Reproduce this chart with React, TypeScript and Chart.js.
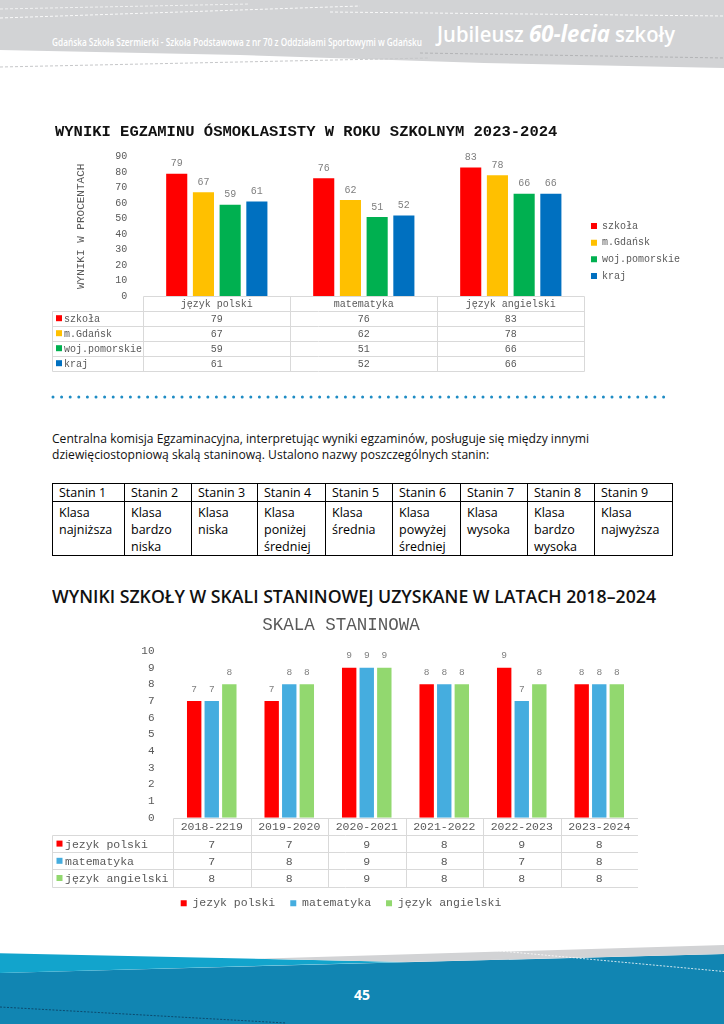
import React, { useEffect, useLayoutEffect, useRef } from 'react';
import { Chart, registerables } from 'chart.js';

Chart.register(...registerables);

const MONO = '"Liberation Mono", "DejaVu Sans Mono", monospace';
const SANS = '"Open Sans", "Noto Sans", sans-serif';

// ---- Chart 1: exam results (percent) ----
const examSubjects = ['język polski', 'matematyka', 'język angielski'];
const examSeriesNames = ['szkoła', 'm.Gdańsk', 'woj.pomorskie', 'kraj'];
const szkolaValues = [79, 76, 83];
const gdanskValues = [67, 62, 78];
const pomorskieValues = [59, 51, 66];
const krajValues = [61, 52, 66];
const examColors = ['#ff0000', '#ffc000', '#00b050', '#0070c0'];
const examAxisMin = 0;
const examAxisMax = 90;
const examAxisStep = 10;

// ---- Chart 2: stanine scale ----
const staninYears = ['2018-2219', '2019-2020', '2020-2021', '2021-2022', '2022-2023', '2023-2024'];
const staninSeriesNames = ['jezyk polski', 'matematyka', 'język angielski'];
const polskiStanin = [7, 7, 9, 8, 9, 8];
const matematykaStanin = [7, 8, 9, 8, 7, 8];
const angielskiStanin = [8, 8, 9, 8, 8, 8];
const staninColors = ['#ff0000', '#45addf', '#92d86f'];
const staninAxisMin = 0;
const staninAxisMax = 10;
const staninAxisStep = 1;

// ---- Stanine names table ----
const staninHeaders = ['Stanin 1', 'Stanin 2', 'Stanin 3', 'Stanin 4', 'Stanin 5', 'Stanin 6', 'Stanin 7', 'Stanin 8', 'Stanin 9'];
const staninNames = [
  'Klasa\nnajniższa',
  'Klasa\nbardzo\nniska',
  'Klasa\nniska',
  'Klasa\nponiżej\nśredniej',
  'Klasa\nśrednia',
  'Klasa\npowyżej\nśredniej',
  'Klasa\nwysoka',
  'Klasa\nbardzo\nwysoka',
  'Klasa\nnajwyższa',
];
const staninColWidths = [72, 67, 66, 68, 67, 68, 67, 67, 78];

type TableCfg = {
  labelLeft: number;
  headerH: number;
  rowH: number;
  font: string;
  color: string;
  line: string;
  box: number;
  boxGap: number;
  textGap: number;
};

function makeTablePlugin(cfg: TableCfg) {
  return {
    id: 'dataTable',
    afterDraw(chart: any) {
      const ctx = chart.ctx as CanvasRenderingContext2D;
      const a = chart.chartArea;
      const xs = chart.scales.x;
      const labels = chart.data.labels as string[];
      const n = labels.length;
      const step = xs.getPixelForValue(1) - xs.getPixelForValue(0);
      const first = xs.getPixelForValue(0) - step / 2;
      const edges: number[] = [];
      for (let i = 0; i <= n; i++) edges.push(first + i * step);
      const ds = chart.data.datasets;
      const top = a.bottom;
      const rowsTop = top + cfg.headerH;
      const bottom = rowsTop + ds.length * cfg.rowH;
      const L = cfg.labelLeft;
      const p = (v: number) => Math.round(v) + 0.5;
      ctx.save();
      ctx.strokeStyle = cfg.line;
      ctx.lineWidth = 1;
      ctx.beginPath();
      ctx.moveTo(p(edges[0]), p(top));
      ctx.lineTo(p(edges[n]), p(top));
      for (let k = 0; k <= ds.length; k++) {
        const y = rowsTop + k * cfg.rowH;
        ctx.moveTo(p(L), p(y));
        ctx.lineTo(p(edges[n]), p(y));
      }
      edges.forEach((e) => {
        ctx.moveTo(p(e), p(top));
        ctx.lineTo(p(e), p(bottom));
      });
      ctx.moveTo(p(L), p(rowsTop));
      ctx.lineTo(p(L), p(bottom));
      ctx.stroke();
      ctx.font = cfg.font;
      ctx.textBaseline = 'middle';
      ctx.textAlign = 'center';
      ctx.fillStyle = cfg.color;
      labels.forEach((lab, i) => {
        ctx.fillText(lab, (edges[i] + edges[i + 1]) / 2, top + cfg.headerH / 2 + 1);
      });
      ds.forEach((d: any, r: number) => {
        const cy = rowsTop + r * cfg.rowH + cfg.rowH / 2 + 1;
        ctx.fillStyle = d.backgroundColor;
        ctx.fillRect(L + cfg.boxGap, cy - cfg.box / 2 - 1, cfg.box, cfg.box);
        ctx.fillStyle = cfg.color;
        ctx.textAlign = 'left';
        ctx.fillText(d.label, L + cfg.boxGap + cfg.box + cfg.textGap, cy);
        ctx.textAlign = 'center';
        (d.data as number[]).forEach((v, i) => {
          ctx.fillText(String(v), (edges[i] + edges[i + 1]) / 2, cy);
        });
      });
      ctx.restore();
    },
  };
}

function makeValueLabels(font: string, color: string, offset: number) {
  return {
    id: 'valueLabels',
    afterDatasetsDraw(chart: any) {
      const ctx = chart.ctx as CanvasRenderingContext2D;
      ctx.save();
      ctx.font = font;
      ctx.fillStyle = color;
      ctx.textAlign = 'center';
      ctx.textBaseline = 'alphabetic';
      chart.data.datasets.forEach((d: any, i: number) => {
        const meta = chart.getDatasetMeta(i);
        meta.data.forEach((el: any, j: number) => {
          ctx.fillText(String(d.data[j]), el.x, el.y - offset);
        });
      });
      ctx.restore();
    },
  };
}

function ChartCanvas({ makeConfig, left, top, width, height }: { makeConfig: () => any; left: number; top: number; width: number; height: number }) {
  const ref = useRef<HTMLCanvasElement>(null);
  useEffect(() => {
    if (!ref.current) return;
    const chart = new Chart(ref.current, makeConfig());
    return () => chart.destroy();
  }, []);
  return (
    <canvas
      ref={ref}
      width={width}
      height={height}
      style={{ position: 'absolute', left, top, width, height }}
    />
  );
}

function examConfig() {
  const series = [szkolaValues, gdanskValues, pomorskieValues, krajValues];
  return {
    type: 'bar',
    data: {
      labels: examSubjects,
      datasets: series.map((vals, i) => ({
        label: examSeriesNames[i],
        data: vals,
        backgroundColor: examColors[i],
        borderWidth: 0,
        categoryPercentage: 0.727,
        barPercentage: 0.79,
      })),
    },
    options: {
      animation: false,
      responsive: false,
      layout: { padding: { left: 3, right: 0, top: 0, bottom: 0 } },
      plugins: {
        title: {
          display: true,
          text: 'WYNIKI EGZAMINU ÓSMOKLASISTY W ROKU SZKOLNYM 2023-2024',
          align: 'start',
          color: '#111',
          font: { family: MONO, size: 15.5, weight: 'bold' },
          padding: { top: 7.4, bottom: 15.7 },
        },
        legend: {
          position: 'right',
          align: 'center',
          labels: {
            boxWidth: 6,
            boxHeight: 6,
            color: '#595959',
            font: { family: MONO, size: 10 },
            padding: 6.7,
          },
        },
        tooltip: { enabled: false },
      },
      scales: {
        x: {
          ticks: { display: false },
          grid: { display: false },
          border: { display: false },
          afterFit: (s: any) => {
            s.height = 91;
          },
        },
        y: {
          min: examAxisMin,
          max: examAxisMax,
          ticks: { stepSize: examAxisStep, color: '#595959', font: { family: MONO, size: 10 }, padding: 8 },
          grid: { display: false },
          border: { display: false },
          title: {
            display: true,
            text: 'WYNIKI W PROCENTACH',
            color: '#595959',
            font: { family: MONO, size: 11 },
            padding: { top: 19.4, bottom: 0 },
          },
          afterFit: (s: any) => {
            s.width = 88.3;
          },
        },
      },
    },
    plugins: [
      makeValueLabels(`10px ${MONO}`, '#7f7f7f', 7.5),
      makeTablePlugin({
        labelLeft: 0,
        headerH: 14.7,
        rowH: 15,
        font: `10px ${MONO}`,
        color: '#595959',
        line: '#d9d9d9',
        box: 6,
        boxGap: 4,
        textGap: 2,
      }),
    ],
  };
}

function staninConfig() {
  const series = [polskiStanin, matematykaStanin, angielskiStanin];
  return {
    type: 'bar',
    data: {
      labels: staninYears,
      datasets: series.map((vals, i) => ({
        label: staninSeriesNames[i],
        data: vals,
        backgroundColor: staninColors[i],
        borderWidth: 0,
        categoryPercentage: 0.68,
        barPercentage: 0.82,
      })),
    },
    options: {
      animation: false,
      responsive: false,
      layout: { padding: 0 },
      plugins: {
        title: {
          display: true,
          text: 'SKALA STANINOWA',
          align: 'center',
          color: '#595959',
          font: { family: MONO, size: 17.5, weight: 'normal' },
          padding: { top: 10.2, bottom: 14.8 },
        },
        legend: {
          position: 'bottom',
          align: 'center',
          labels: {
            boxWidth: 6,
            boxHeight: 6,
            color: '#595959',
            font: { family: MONO, size: 11.5 },
            padding: 15,
          },
        },
        tooltip: { enabled: false },
      },
      scales: {
        x: {
          ticks: { display: false },
          grid: { display: false },
          border: { display: false },
          afterFit: (s: any) => {
            s.height = 64.8;
          },
        },
        y: {
          min: staninAxisMin,
          max: staninAxisMax,
          ticks: { stepSize: staninAxisStep, color: '#595959', font: { family: MONO, size: 11 }, padding: 10.5 },
          grid: { display: false },
          border: { display: false },
          afterFit: (s: any) => {
            s.width = 129;
          },
        },
      },
    },
    plugins: [
      makeValueLabels(`9.5px ${MONO}`, '#7f7f7f', 9.5),
      makeTablePlugin({
        labelLeft: 8,
        headerH: 17.3,
        rowH: 17.2,
        font: `11.5px ${MONO}`,
        color: '#595959',
        line: '#d9d9d9',
        box: 6,
        boxGap: 4.5,
        textGap: 2.5,
      }),
    ],
  };
}

function FitText({ width, style, children }: { width: number; style: React.CSSProperties; children: React.ReactNode }) {
  const ref = useRef<HTMLSpanElement>(null);
  useLayoutEffect(() => {
    const el = ref.current;
    if (!el) return;
    el.style.transform = 'none';
    const w = el.getBoundingClientRect().width;
    if (w > 0) el.style.transform = `scaleX(${width / w})`;
  });
  return (
    <span
      ref={ref}
      style={{ display: 'inline-block', whiteSpace: 'nowrap', transformOrigin: 'left center', ...style }}
    >
      {children}
    </span>
  );
}

function Header() {
  return (
    <>
      <svg width={724} height={80} style={{ position: 'absolute', left: 0, top: 0 }}>
        <polygon points="0,0 724,0 724,68 484,63 240,55 0,50" fill="#d2d3d5" />
        <line x1={0} y1={18} x2={360} y2={6} stroke="#ffffff" strokeWidth={1} strokeDasharray="3 2" opacity={0.9} />
        <line x1={0} y1={9} x2={250} y2={4} stroke="#ffffff" strokeWidth={1} strokeDasharray="3 2" opacity={0.7} />
        <line x1={330} y1={12} x2={724} y2={16} stroke="#ffffff" strokeWidth={1} strokeDasharray="3 2" opacity={0.9} />
        <line x1={420} y1={53} x2={724} y2={58} stroke="#b3b4b6" strokeWidth={1} strokeDasharray="3 2" />
        <line x1={0} y1={67} x2={430} y2={58} stroke="#c6c7c9" strokeWidth={1} strokeDasharray="3 2" />
      </svg>
      <div style={{ position: 'absolute', left: 52, top: 29 }}>
        <FitText width={370} style={{ fontFamily: SANS, fontSize: 10.5, fontWeight: 600, color: '#ffffff', lineHeight: '14px' }}>
          Gdańska Szkoła Szermierki - Szkoła Podstawowa z nr 70 z Oddziałami Sportowymi w Gdańsku
        </FitText>
      </div>
      <div style={{ position: 'absolute', left: 437, top: 19 }}>
        <FitText width={238} style={{ fontFamily: SANS, fontSize: 21, fontWeight: 600, color: '#ffffff', lineHeight: '28px' }}>
          Jubileusz <span style={{ fontStyle: 'italic', fontWeight: 700, fontSize: 23 }}>60-lecia</span> szkoły
        </FitText>
      </div>
    </>
  );
}

function Footer() {
  return (
    <>
      <svg width={724} height={90} viewBox="0 934 724 90" style={{ position: 'absolute', left: 0, top: 934 }}>
        <polygon points="0,973 724,954 724,1024 0,1024" fill="#1185b2" />
        <polygon points="0,953.3 406,962 0,973" fill="#12a4cc" />
        <polygon points="258,958.8 724,945 724,954 406,962" fill="#d2d3d5" />
        <line x1={0} y1={1007} x2={286} y2={1023} stroke="#0b4a6e" strokeWidth={1} strokeDasharray="2 1.5" />
        <line x1={489} y1={950} x2={724} y2={971.5} stroke="#ffffff" strokeWidth={1} strokeDasharray="2 1.5" opacity={0.8} />
      </svg>
      <div
        style={{
          position: 'absolute',
          left: 0,
          width: 724,
          top: 985,
          textAlign: 'center',
          fontFamily: SANS,
          fontSize: 14,
          fontWeight: 700,
          color: '#ffffff',
          lineHeight: '19px',
        }}
      >
        45
      </div>
    </>
  );
}

function StaninTable() {
  const cell: React.CSSProperties = {
    border: '1px solid #000',
    padding: '0 0 0 6px',
    verticalAlign: 'top',
    textAlign: 'left',
    lineHeight: '17px',
    overflow: 'hidden',
  };
  return (
    <table
      style={{
        position: 'absolute',
        left: 52,
        top: 483,
        width: 621,
        borderCollapse: 'collapse',
        tableLayout: 'fixed',
        fontFamily: SANS,
        fontSize: 12.5,
        color: '#000',
      }}
    >
      <colgroup>
        {staninColWidths.map((w, i) => (
          <col key={i} style={{ width: w }} />
        ))}
      </colgroup>
      <tbody>
        <tr style={{ height: 18 }}>
          {staninHeaders.map((h, i) => (
            <td key={i} style={{ ...cell, paddingTop: 0 }}>
              {h}
            </td>
          ))}
        </tr>
        <tr style={{ height: 54 }}>
          {staninNames.map((t, i) => (
            <td key={i} style={{ ...cell, paddingTop: 2, whiteSpace: 'pre-line' }}>
              {t}
            </td>
          ))}
        </tr>
      </tbody>
    </table>
  );
}

export default function App() {
  return (
    <div
      style={{
        position: 'absolute',
        left: 0,
        top: 0,
        width: 724,
        height: 1024,
        overflow: 'hidden',
        background: '#ffffff',
        fontFamily: SANS,
      }}
    >
      <Header />
      <ChartCanvas makeConfig={examConfig} left={52} top={115} width={638} height={272} />
      <svg width={724} height={8} style={{ position: 'absolute', left: 0, top: 393 }}>
        <line x1={53} y1={4} x2={672} y2={4} stroke="#1f8cc4" strokeWidth={3} strokeLinecap="round" strokeDasharray="0 8.6" />
      </svg>
      <div
        style={{
          position: 'absolute',
          left: 52,
          top: 431,
          whiteSpace: 'nowrap',
          fontFamily: SANS,
          fontSize: 12.1,
          lineHeight: '16.4px',
          color: '#111',
        }}
      >
        Centralna komisja Egzaminacyjna, interpretując wyniki egzaminów, posługuje się między innymi
        <br />
        dziewięciostopniową skalą staninową. Ustalono nazwy poszczególnych stanin:
      </div>
      <StaninTable />
      <div style={{ position: 'absolute', left: 52, top: 585 }}>
        <FitText
          width={604}
          style={{ fontFamily: SANS, fontSize: 17.5, fontWeight: 600, lineHeight: '23px', color: '#111' }}
        >
          WYNIKI SZKOŁY W SKALI STANINOWEJ UZYSKANE W LATACH 2018–2024
        </FitText>
      </div>
      <ChartCanvas makeConfig={staninConfig} left={44} top={605} width={594} height={314} />
      <Footer />
    </div>
  );
}
